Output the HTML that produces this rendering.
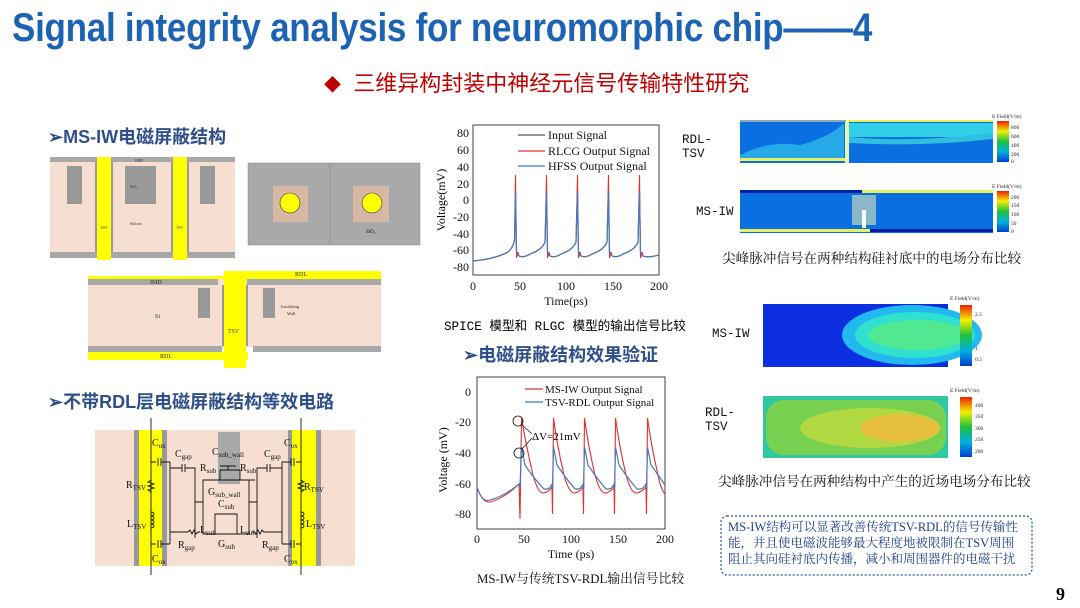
<!DOCTYPE html>
<html><head><meta charset="utf-8">
<style>
body{margin:0;width:1080px;height:608px;background:#fff;position:relative;overflow:hidden;font-family:"Liberation Sans","Noto Sans CJK SC",sans-serif}
.a{position:absolute;white-space:nowrap}
.t{left:12px;top:6px;font-size:40px;font-weight:bold;color:#1d63b3;transform:scaleX(0.875);transform-origin:left top;letter-spacing:-0.3px}
.h{color:#c00000;font-size:22px;left:324px;top:66px}
.s{color:#2e4f88;font-size:18px;font-weight:bold}
.c{font-family:"Liberation Serif","Noto Serif CJK SC",serif;font-size:13.6px;color:#111}
.m{font-family:"Liberation Mono","Noto Sans CJK SC",monospace;font-size:12.5px;color:#111}
svg text{font-family:"Liberation Serif",serif}
</style></head><body>
<div class="a t">Signal integrity analysis for neuromorphic chip——4</div>
<div class="a h"><span style="font-size:17px">◆</span>&nbsp; 三维异构封装中神经元信号传输特性研究</div>
<div class="a s" style="left:48px;top:123px">➢MS-IW电磁屏蔽结构</div>
<div class="a s" style="left:48px;top:388px">➢不带RDL层电磁屏蔽结构等效电路</div>
<div class="a s" style="left:463px;top:341px">➢电磁屏蔽结构效果验证</div>

<svg class="a" style="left:0;top:0" width="1080" height="608">
<rect x="50" y="162" width="185" height="96" fill="#f6dfd1"/>
<rect x="50" y="157" width="185" height="5" fill="#a8a8a8"/>
<rect x="50" y="252" width="185" height="6" fill="#a8a8a8"/>
<rect x="67" y="166" width="15" height="38" fill="#999"/>
<rect x="125" y="166" width="31" height="38" fill="#999"/>
<rect x="200" y="166" width="15" height="38" fill="#999"/>
<rect x="97" y="157" width="14" height="103" fill="#ffff00"/><rect x="95" y="162" width="2" height="90" fill="#999"/><rect x="111" y="162" width="2" height="90" fill="#999"/>
<rect x="173" y="157" width="14" height="103" fill="#ffff00"/><rect x="171" y="162" width="2" height="90" fill="#999"/><rect x="187" y="162" width="2" height="90" fill="#999"/>
<g font-size="4" fill="#333"><text x="135" y="162">IMD</text><text x="130" y="225">Silicon</text><text x="130" y="188">SiO₂</text><text x="100" y="229">TSV</text><text x="176" y="229">TSV</text></g>
<rect x="248" y="163" width="172" height="82" fill="#a9a9a9" stroke="#888" stroke-width="0.5"/>
<line x1="330" y1="163" x2="330" y2="245" stroke="#888" stroke-width="0.6"/>
<rect x="273" y="186" width="35" height="36" fill="#d7b8a4"/><circle cx="290" cy="203" r="10" fill="#ffff00" stroke="#333" stroke-width="0.6"/>
<rect x="353" y="186" width="36" height="36" fill="#d7b8a4"/><circle cx="372" cy="203" r="10" fill="#ffff00" stroke="#333" stroke-width="0.6"/>
<text x="366" y="233" font-size="5">SiO₂</text>
<rect x="88" y="279" width="293" height="68" fill="#f6dfd1"/>
<rect x="88" y="276" width="293" height="3" fill="#ffff00"/>
<rect x="88" y="279" width="130" height="6" fill="#a8a8a8"/><rect x="247" y="279" width="134" height="6" fill="#a8a8a8"/>
<rect x="224" y="271" width="157" height="7" fill="#ffff00"/>
<rect x="88" y="346" width="134" height="6" fill="#a8a8a8"/><rect x="253" y="346" width="128" height="6" fill="#a8a8a8"/>
<rect x="88" y="352" width="160" height="8" fill="#ffff00"/>
<rect x="224" y="271" width="22" height="97" fill="#ffff00"/>
<rect x="222" y="285" width="2" height="61" fill="#999"/><rect x="246" y="285" width="2" height="61" fill="#999"/>
<rect x="198" y="288" width="12" height="30" fill="#999"/><rect x="263" y="288" width="12" height="30" fill="#999"/>
<g font-size="6" fill="#333"><text x="150" y="284">IMD</text><text x="295" y="276">RDL</text><text x="155" y="318">Si</text><text x="228" y="333">TSV</text><text x="160" y="358">RDL</text><text x="281" y="308" font-size="4.5">Insulating</text><text x="287" y="315" font-size="4.5">Wall</text></g>
<rect x="95" y="430" width="260" height="136" fill="#f6dfd1"/>
<rect x="134" y="430" width="5" height="136" fill="#999"/><rect x="139" y="430" width="23" height="136" fill="#ffff00"/><rect x="162" y="430" width="5" height="136" fill="#999"/>
<rect x="288" y="430" width="4" height="136" fill="#999"/><rect x="292" y="430" width="24" height="136" fill="#ffff00"/><rect x="316" y="430" width="5" height="136" fill="#999"/>
<rect x="218" y="432" width="22" height="52" fill="#a8a8a8"/>
<g stroke="#111" stroke-width="0.9" fill="none">
<line x1="151" y1="418" x2="151" y2="575"/><line x1="301" y1="418" x2="301" y2="575"/>
<path d="M151 462 h5 M158 458v8 M161 458v8 M161 462 h9 M170 462 v82 M151 544h5 M158 540v8 M161 540v8 M161 544h9"/>
<path d="M170 468 h12 M182 464v8 M185 464v8 M185 468 h10 v70 M170 532 h18 l2 -2 2 4 2 -4 2 4 2 -2 h2"/>
<path d="M195 502 h8 v-22 h20 M203 502 v32 h20 M223 480 h12 M240 480 v-10 h-20 v10 M255 480 h-15 M228 470 v-4 M228 466 h-8 M228 466 h8"/>
<path d="M301 462 h-5 M294 458v8 M291 458v8 M291 462 h-9 M282 462 v82 M301 544h-5 M294 540v8 M291 540v8 M291 544h-9"/>
<path d="M282 468 h-12 M270 464v8 M267 464v8 M267 468 h-10 v70 M282 532 h-18 l-2 -2 -2 4 -2 -4 -2 4 -2 -2 h-2"/>
<path d="M257 502 h-8 v-22 h-20 M249 502 v32 h-26 M215 524 v-10 h22 v10 M215 524 v10 h22 v-10"/>
<path d="M151 480 l-3 2 6 2 -6 2 6 2 -6 2 3 2 M301 480 l3 2 -6 2 6 2 -6 2 6 2 -3 2"/>
<path d="M151 512 a3 2 0 1 1 0 4 a3 2 0 1 1 0 4 a3 2 0 1 1 0 4 a3 2 0 1 1 0 4 M301 512 a3 2 0 1 1 0 4 a3 2 0 1 1 0 4 a3 2 0 1 1 0 4 a3 2 0 1 1 0 4"/>
</g>
<g font-size="10" fill="#111">
<text x="152" y="446">C<tspan font-size="7" dy="2">ox</tspan></text><text x="152" y="562">C<tspan font-size="7" dy="2">ox</tspan></text>
<text x="284" y="446">C<tspan font-size="7" dy="2">ox</tspan></text><text x="284" y="562">C<tspan font-size="7" dy="2">ox</tspan></text>
<text x="126" y="488">R<tspan font-size="7" dy="2">TSV</tspan></text><text x="304" y="490">R<tspan font-size="7" dy="2">TSV</tspan></text>
<text x="127" y="527">L<tspan font-size="7" dy="2">TSV</tspan></text><text x="306" y="527">L<tspan font-size="7" dy="2">TSV</tspan></text>
<text x="175" y="457">C<tspan font-size="7" dy="2">gap</tspan></text><text x="264" y="457">C<tspan font-size="7" dy="2">gap</tspan></text>
<text x="212" y="455">C<tspan font-size="7" dy="2">sub_wall</tspan></text>
<text x="200" y="471">R<tspan font-size="7" dy="2">sub</tspan></text><text x="240" y="471">R<tspan font-size="7" dy="2">sub</tspan></text>
<text x="208" y="495">G<tspan font-size="7" dy="2">sub_wall</tspan></text><text x="218" y="507">C<tspan font-size="7" dy="2">sub</tspan></text>
<text x="200" y="533">L<tspan font-size="7" dy="2">sub</tspan></text><text x="240" y="533">L<tspan font-size="7" dy="2">sub</tspan></text>
<text x="218" y="547">G<tspan font-size="7" dy="2">sub</tspan></text>
<text x="178" y="548">R<tspan font-size="7" dy="2">gap</tspan></text><text x="262" y="548">R<tspan font-size="7" dy="2">gap</tspan></text>
</g>

<rect x="473" y="125" width="186" height="150" fill="none" stroke="#111" stroke-width="0.8"/>
<g font-size="12" fill="#111" text-anchor="end">
<text x="469" y="137">80</text><text x="469" y="154">60</text><text x="469" y="171">40</text><text x="469" y="188">20</text><text x="469" y="204">0</text><text x="469" y="221">-20</text><text x="469" y="238">-40</text><text x="469" y="254">-60</text><text x="469" y="271">-80</text>
</g>
<g font-size="12" fill="#111" text-anchor="middle"><text x="473" y="290">0</text><text x="520" y="290">50</text><text x="566" y="290">100</text><text x="613" y="290">150</text><text x="659" y="290">200</text><text x="566" y="305">Time(ps)</text></g>
<text transform="translate(445,200) rotate(-90)" font-size="12" text-anchor="middle">Voltage(mV)</text>
<g font-size="12" fill="#111"><text x="548" y="139">Input Signal</text><text x="548" y="155">RLCG Output Signal</text><text x="548" y="170">HFSS Output Signal</text></g>
<line x1="518" y1="135" x2="545" y2="135" stroke="#555" stroke-width="1.2"/><line x1="518" y1="151" x2="545" y2="151" stroke="#e03030" stroke-width="1.2"/><line x1="518" y1="166" x2="545" y2="166" stroke="#3a7fc8" stroke-width="1.2"/>
<path d="M473 261 Q495 259 508 252 Q513 248 514.5 240 L515.5 175 L516.5 258 L518 252 L519 256 Q524 258 530 254 Q542 250 545 242 L546.5 175 L547.5 258 L549 252 L550 256 Q555 258 561 254 Q573 250 576 242 L577.5 175 L578.5 258 L580 252 L581 256 Q586 258 592 254 Q604 250 607 242 L608.5 175 L609.5 258 L611 252 L612 256 Q617 258 623 254 Q635 250 638 242 L639.5 175 L640.5 258 L642 252 L643 256 Q648 258 659 255" fill="none" stroke="#e03030" stroke-width="1.1"/>
<path d="M473 261 Q495 259 508 252 Q513 248 514.5 240 L515.5 192 L516.5 252 Q518 255 519 256 Q524 258 530 254 Q542 250 545 242 L546.5 192 L547.5 252 Q549 255 550 256 Q555 258 561 254 Q573 250 576 242 L577.5 192 L578.5 252 Q580 255 581 256 Q586 258 592 254 Q604 250 607 242 L608.5 192 L609.5 252 Q611 255 612 256 Q617 258 623 254 Q635 250 638 242 L639.5 192 L640.5 252 Q642 255 643 256 Q648 258 659 255" fill="none" stroke="#4a78b8" stroke-width="1.3"/>
<rect x="477" y="377" width="188" height="152" fill="none" stroke="#111" stroke-width="0.8"/>
<g font-size="12" fill="#111" text-anchor="end"><text x="471" y="396">0</text><text x="471" y="426">-20</text><text x="471" y="457">-40</text><text x="471" y="488">-60</text><text x="471" y="518">-80</text></g>
<g font-size="12" fill="#111" text-anchor="middle"><text x="477" y="543">0</text><text x="524" y="543">50</text><text x="571" y="543">100</text><text x="618" y="543">150</text><text x="665" y="543">200</text><text x="571" y="558">Time (ps)</text></g>
<text transform="translate(447,460) rotate(-90)" font-size="12" text-anchor="middle">Voltage (mV)</text>
<g font-size="11" fill="#111"><text x="545" y="393">MS-IW Output Signal</text><text x="545" y="406">TSV-RDL Output Signal</text></g>
<line x1="525" y1="389" x2="543" y2="389" stroke="#e03030" stroke-width="1.2"/><line x1="525" y1="402" x2="543" y2="402" stroke="#3a7fc8" stroke-width="1.2"/>
<path d="M477 487 Q482 503 490 502 Q505 498 519 484 L520 519 L521.5 418 Q526 445 533 475 Q538 494 544 493 Q550 491 552 487 L552.5 514 L553.5 418 Q557 445 564 475 Q569 494 575 493 Q581 491 583 487 L583.5 514 L584.5 418 Q588 445 595 475 Q600 494 606 493 Q612 491 614 487 L614.5 514 L615.5 418 Q619 445 626 475 Q631 494 637 493 Q643 491 646 487 L646.5 514 L647.5 418 Q651 445 658 475 Q661 490 665 494" fill="none" stroke="#e03030" stroke-width="1.1"/>
<path d="M477 487 Q482 503 490 500 Q505 496 519 484 L520 487 L521.5 447 L525 465 Q535 480 544 489 Q550 490 552 484 L552.5 490 L553.5 447 L557 465 Q567 480 575 489 Q581 490 583 484 L583.5 490 L584.5 447 L588 465 Q598 480 606 489 Q612 490 614 484 L614.5 490 L615.5 447 L619 465 Q629 480 637 489 Q643 490 646 484 L646.5 490 L647.5 447 L651 465 Q659 476 665 485" fill="none" stroke="#4a78b8" stroke-width="1.2"/>
<circle cx="518" cy="421" r="5" fill="none" stroke="#111" stroke-width="0.8"/><circle cx="519" cy="453" r="5" fill="none" stroke="#111" stroke-width="0.8"/>
<path d="M522 425 L532 434 M522 449 L532 438" stroke="#111" stroke-width="0.7"/>
<text x="532" y="440" font-size="11">ΔV=21mV</text>

<defs>
<linearGradient id="cb" x1="0" y1="1" x2="0" y2="0"><stop offset="0" stop-color="#0040d0"/><stop offset="0.25" stop-color="#00b0e0"/><stop offset="0.5" stop-color="#20c040"/><stop offset="0.75" stop-color="#f0f000"/><stop offset="1" stop-color="#f02000"/></linearGradient>
</defs>
<rect x="740" y="120" width="253" height="43" fill="#0a6fe0"/>
<path d="M740 155 q30 -15 60 -10 q30 -8 44 -22 v37 h-104z" fill="#27a9e8"/>
<rect x="848" y="123" width="145" height="14" fill="#2fd0e8"/><path d="M848 137 q60 6 145 -4 v6 q-70 8 -145 4z" fill="#2fc0e0"/>
<rect x="845" y="120" width="4" height="43" fill="#e8f8b0"/>
<rect x="740" y="120" width="106" height="2" fill="#8ab"/><rect x="848" y="120" width="145" height="2" fill="#e8f060"/><rect x="740" y="158" width="106" height="3" fill="#e8f060"/>
<rect x="740" y="190" width="253" height="43" fill="#0a6fe0"/>
<rect x="740" y="190" width="253" height="3" fill="#0020a0"/><rect x="862" y="190" width="131" height="3" fill="#e8f060"/>
<rect x="740" y="229" width="130" height="3" fill="#e8f060"/><rect x="870" y="229" width="123" height="3" fill="#0020a0"/>
<rect x="852" y="195" width="24" height="30" fill="#8ab8c8"/><rect x="862" y="210" width="4" height="18" fill="#f0fff0"/>
<rect x="997" y="121" width="12" height="41" fill="url(#cb)"/><rect x="997" y="191" width="12" height="41" fill="url(#cb)"/>
<g font-size="5.5" fill="#222"><text x="992" y="118">E Field(V/m)</text><text x="1011" y="129">800</text><text x="1011" y="138">600</text><text x="1011" y="147">400</text><text x="1011" y="156">200</text><text x="1011" y="163">0</text>
<text x="992" y="188">E Field(V/m)</text><text x="1011" y="199">200</text><text x="1011" y="207">150</text><text x="1011" y="216">100</text><text x="1011" y="225">50</text><text x="1011" y="233">0</text>
<text x="950" y="300">E Field(V/m)</text><text x="975" y="316">2.5</text><text x="975" y="327">2</text><text x="975" y="339">1.5</text><text x="975" y="350">1</text><text x="975" y="361">0.5</text>
<text x="950" y="392">E Field(V/m)</text><text x="975" y="407">400</text><text x="975" y="418">350</text><text x="975" y="430">300</text><text x="975" y="441">250</text><text x="975" y="453">200</text></g>
<rect x="763" y="304" width="185" height="63" fill="#0a2ee0"/>
<ellipse cx="912" cy="335" rx="70" ry="30" fill="#22b8f0"/><ellipse cx="915" cy="335" rx="60" ry="23" fill="#30e0d0"/><ellipse cx="918" cy="335" rx="50" ry="15" fill="#50e890"/>
<rect x="763" y="396" width="185" height="62" fill="#30c8a0"/>
<rect x="766" y="400" width="180" height="55" rx="18" fill="#78d050"/><ellipse cx="870" cy="428" rx="70" ry="20" fill="#b0d840"/><ellipse cx="900" cy="428" rx="40" ry="14" fill="#e8c040"/>
<rect x="960" y="305" width="12" height="61" fill="url(#cb)"/><rect x="960" y="397" width="12" height="60" fill="url(#cb)"/>
<rect x="721" y="516" width="311" height="59" rx="6" fill="none" stroke="#2050a0" stroke-width="1.2" stroke-dasharray="2 2"/>
</svg>
<div class="a m" style="left:682px;top:133px">RDL-<br>TSV</div>
<div class="a m" style="left:696px;top:205px">MS-IW</div>
<div class="a m" style="left:712px;top:327px">MS-IW</div>
<div class="a m" style="left:705px;top:406px">RDL-<br>TSV</div>
<div class="a c" style="left:722px;top:247px">尖峰脉冲信号在两种结构硅衬底中的电场分布比较</div>
<div class="a c" style="left:718px;top:470px">尖峰脉冲信号在两种结构中产生的近场电场分布比较</div>
<div class="a" style="left:444px;top:315px;font-family:'Liberation Mono','Noto Sans CJK SC',monospace;font-size:12.6px">SPICE 模型和 RLGC 模型的输出信号比较</div>
<div class="a c" style="left:477px;top:568px;font-size:12.8px">MS-IW与传统TSV-RDL输出信号比较</div>
<div class="a" style="left:728px;top:519px;font-size:12.5px;color:#1f3f8a;line-height:16px;font-family:'Liberation Serif','Noto Serif CJK SC',serif">MS-IW结构可以显著改善传统TSV-RDL的信号传输性<br>能，并且使电磁波能够最大程度地被限制在TSV周围<br>阻止其向硅衬底内传播，减小和周围器件的电磁干扰</div>
<div class="a" style="left:1056px;top:584px;font-size:18px;font-weight:bold;font-family:'Liberation Serif',serif">9</div>
</body></html>
